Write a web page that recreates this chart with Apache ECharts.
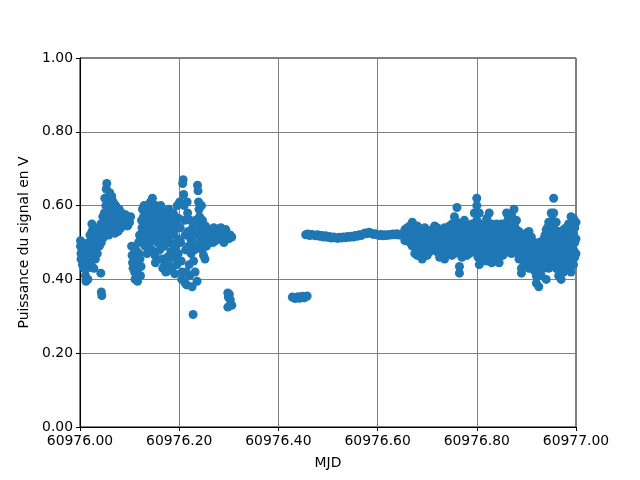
<!DOCTYPE html>
<html>
<head>
<meta charset="utf-8">
<script src="https://cdn.jsdelivr.net/npm/echarts@6/dist/echarts.min.js"></script>
<style>html,body{margin:0;padding:0;background:#fff}#c{width:640px;height:480px}</style>
</head>
<body>
<div id="c"></div>
<script>
// Each entry: [MJD, value1, value2, ...] (signal power in V)
const segStart = [
[60976.001,.505,.49],[60976.002,.47,.455],[60976.004,.50,.48],[60976.005,.46,.44],[60976.007,.495,.47],[60976.008,.45,.43],
[60976.010,.49,.465],[60976.011,.44,.41],[60976.012,.395],[60976.013,.48],[60976.014,.455],[60976.015,.43],[60976.016,.40],
[60976.017,.47],[60976.018,.50,.445],[60976.020,.52],[60976.021,.49,.465],[60976.022,.44],[60976.024,.55,.53],[60976.025,.51],
[60976.026,.485],[60976.027,.46],[60976.028,.43],[60976.029,.50],[60976.030,.475],[60976.031,.455],[60976.032,.52],[60976.033,.49],
[60976.034,.50],[60976.035,.47],[60976.036,.53],[60976.037,.51],[60976.038,.54],[60976.039,.49]
];
const segRise = [
[60976.042,.417],[60976.043,.366],[60976.044,.356],
[60976.041,.52],[60976.042,.55],[60976.043,.50],[60976.045,.53],[60976.046,.57],[60976.047,.54],[60976.048,.515],[60976.049,.58],
[60976.050,.555,.62],[60976.051,.53],[60976.052,.60],[60976.053,.645],[60976.054,.66],[60976.055,.575,.545],[60976.056,.615],
[60976.057,.59],[60976.058,.52],[60976.059,.56],[60976.060,.635],[60976.061,.60],[60976.062,.58],[60976.063,.55],[60976.064,.625],
[60976.065,.53],[60976.066,.57],[60976.067,.61],[60976.068,.59],[60976.069,.55],[60976.070,.525],[60976.071,.57],[60976.072,.60],
[60976.073,.555],[60976.074,.54],[60976.075,.58],[60976.076,.565],[60976.077,.53],[60976.078,.545],[60976.079,.59],[60976.080,.57],
[60976.082,.555],[60976.083,.54],[60976.084,.58],[60976.086,.56],[60976.087,.545],[60976.089,.57],[60976.090,.555],[60976.092,.575],
[60976.094,.56],[60976.096,.545],[60976.098,.565],[60976.100,.555],[60976.102,.57]
];
const segDip = [
[60976.104,.49],[60976.105,.465],[60976.106,.445],[60976.107,.43],[60976.108,.47],[60976.109,.455],[60976.110,.42],[60976.111,.40],
[60976.112,.44],[60976.113,.48],[60976.114,.46],[60976.116,.395],[60976.117,.43],[60976.118,.50],[60976.119,.47],[60976.120,.52],
[60976.121,.455],[60976.122,.41],[60976.123,.435]
];
const segMid = [
[60976.124,.56],[60976.125,.54],[60976.126,.59],[60976.127,.51],[60976.128,.57],[60976.129,.60],[60976.130,.53],[60976.131,.49],
[60976.132,.58],[60976.133,.55],[60976.134,.51],[60976.135,.47],[60976.136,.60],[60976.137,.57],[60976.138,.52],[60976.139,.545],
[60976.140,.585],[60976.141,.50],[60976.142,.61],[60976.143,.56],[60976.144,.53],[60976.145,.48],[60976.146,.62],[60976.147,.59],
[60976.148,.55],[60976.149,.51],[60976.150,.57],[60976.151,.465],[60976.152,.445],[60976.153,.60],[60976.154,.53],[60976.155,.58],
[60976.156,.50],[60976.157,.55],[60976.158,.59],[60976.159,.52],[60976.160,.57],[60976.161,.48],[60976.162,.54],[60976.163,.60],
[60976.164,.51],[60976.165,.455],[60976.166,.56],[60976.167,.43],[60976.168,.525],[60976.169,.58],[60976.170,.49],[60976.171,.44],
[60976.172,.55],[60976.173,.42],[60976.174,.505],[60976.175,.57],[60976.176,.46],[60976.177,.53],[60976.178,.445],[60976.179,.59],
[60976.180,.50],[60976.181,.425],[60976.182,.56],[60976.183,.475],[60976.184,.52],[60976.185,.43],[60976.186,.545],[60976.187,.495],
[60976.188,.58],[60976.189,.46],[60976.190,.53],[60976.191,.415],[60976.192,.57],[60976.193,.49],[60976.194,.55],[60976.195,.44],
[60976.196,.60],[60976.197,.51],[60976.198,.47],[60976.199,.565]
];
const segPeaks = [
[60976.201,.61],[60976.202,.54],[60976.203,.50],[60976.204,.45],[60976.205,.40],[60976.206,.42],[60976.207,.66],[60976.208,.67],
[60976.209,.63],[60976.210,.60],[60976.211,.56],[60976.212,.39,.52],[60976.213,.48],[60976.214,.42],[60976.215,.385],[60976.216,.61],
[60976.217,.58],[60976.218,.53],[60976.219,.49],[60976.220,.44],[60976.221,.41],[60976.222,.56],[60976.223,.51],[60976.224,.47],
[60976.226,.38],[60976.227,.54],[60976.228,.305,.50],[60976.229,.45],[60976.230,.52],[60976.231,.48],[60976.232,.42],[60976.233,.56],
[60976.234,.53],[60976.236,.395,.49],[60976.237,.655],[60976.238,.64],[60976.239,.61],[60976.240,.59],[60976.241,.57],[60976.242,.55]
];
const segTail = [
[60976.243,.53],[60976.244,.51],[60976.245,.60],[60976.246,.48],[60976.247,.56],[60976.248,.50],[60976.249,.465],[60976.250,.53],
[60976.251,.52],[60976.252,.455],[60976.253,.545],[60976.254,.51],[60976.255,.49],[60976.256,.53],[60976.258,.52],[60976.260,.505],
[60976.262,.535],[60976.264,.515],[60976.266,.53],[60976.268,.50],[60976.270,.54],[60976.272,.52],[60976.274,.505],[60976.276,.53],
[60976.278,.515],[60976.280,.525],[60976.282,.51],[60976.284,.54],[60976.286,.52],[60976.288,.53],[60976.290,.50],[60976.292,.525],
[60976.294,.535],[60976.296,.515],[60976.300,.51],[60976.303,.52],[60976.306,.515],
[60976.298,.363,.325],[60976.299,.352],[60976.301,.36],[60976.303,.345],[60976.306,.33]
];
const segLow = [
[60976.428,.352],[60976.431,.350],[60976.434,.348],[60976.437,.351],[60976.440,.353],[60976.443,.349],[60976.446,.352],
[60976.449,.354],[60976.452,.350],[60976.455,.353],[60976.458,.355]
];
const segFlat = [
[60976.455,.521],[60976.459,.523],[60976.463,.519],[60976.467,.522],[60976.471,.520],[60976.475,.518],[60976.479,.521],
[60976.483,.517],[60976.487,.519],[60976.491,.515],[60976.495,.518],[60976.499,.514],[60976.503,.516],[60976.507,.512],
[60976.511,.515],[60976.515,.513],[60976.519,.511],[60976.523,.514],[60976.527,.512],[60976.531,.515],[60976.535,.513],
[60976.539,.516],[60976.543,.514],[60976.547,.517],[60976.551,.515],[60976.555,.519],[60976.559,.517],[60976.563,.521],
[60976.567,.519],[60976.571,.523],[60976.575,.526],[60976.579,.524],[60976.583,.528],[60976.587,.525],[60976.591,.522],
[60976.595,.524],[60976.599,.521],[60976.603,.519],[60976.607,.522],[60976.611,.518],[60976.615,.521],[60976.619,.519],
[60976.623,.522],[60976.627,.520],[60976.631,.523],[60976.635,.521],[60976.639,.524],[60976.643,.520],[60976.647,.522],
[60976.651,.519]
];
const segNoisy = [
[60976.655,.52,.535,.505],[60976.660,.525,.54,.51],[60976.665,.53,.545,.50],[60976.670,.52,.555,.49],[60976.675,.535,.50,.47],
[60976.680,.545,.515,.48,.465],[60976.685,.53,.505,.47],[60976.690,.525,.49,.455],[60976.695,.54,.51,.48],[60976.700,.53,.50,.465],
[60976.705,.52,.495,.475],[60976.710,.535,.51,.48],[60976.715,.545,.52,.49],[60976.720,.54,.505,.475],[60976.725,.53,.50,.46],
[60976.730,.525,.495,.47],[60976.735,.54,.51,.455],[60976.740,.53,.50,.475],[60976.745,.545,.515,.48],[60976.750,.55,.52,.49,.465],
[60976.755,.57,.535,.50,.47],[60976.760,.595,.555,.51,.475],[60976.765,.545,.49,.435,.417],[60976.770,.53,.50,.46],
[60976.775,.56,.52,.48],[60976.780,.545,.51,.465],[60976.785,.53,.495,.47],[60976.790,.55,.515,.48],[60976.795,.58,.545,.50],
[60976.800,.62,.60,.56,.52,.47],[60976.805,.58,.53,.49,.44],[60976.810,.55,.51,.465,.45],[60976.815,.54,.50,.46],
[60976.820,.565,.525,.48,.45],[60976.825,.58,.54,.50,.46],[60976.830,.55,.515,.475,.445],[60976.835,.535,.50,.465],
[60976.840,.55,.52,.48,.45],[60976.845,.54,.505,.465,.445],[60976.850,.55,.52,.48],[60976.855,.545,.51,.47],
[60976.860,.58,.54,.50,.475],[60976.865,.57,.53,.49],[60976.870,.575,.535,.495,.47],[60976.875,.59,.55,.51],[60976.880,.56,.52,.48],
[60976.885,.53,.49,.455],[60976.890,.52,.47,.43,.417],[60976.895,.51,.475,.44],[60976.900,.525,.49,.455],[60976.905,.53,.50,.46,.43],
[60976.910,.515,.48,.44],[60976.915,.50,.465,.425],[60976.920,.495,.455,.41,.39],[60976.925,.50,.46,.42,.38],[60976.930,.49,.45,.41],
[60976.935,.51,.47,.43],[60976.940,.535,.50,.46,.40],[60976.945,.555,.52,.48,.43],[60976.950,.58,.55,.51,.46],
[60976.955,.62,.58,.54,.49,.44],[60976.960,.555,.51,.47,.43],[60976.965,.53,.49,.445,.41],[60976.970,.52,.48,.44,.40],
[60976.975,.535,.50,.46,.42],[60976.980,.54,.505,.47,.43],[60976.985,.55,.515,.48,.44],[60976.990,.57,.53,.49,.45,.42],
[60976.995,.565,.525,.48,.44],[60977.000,.555,.51,.47]
];
const segNoisyFill = [
[60976.6775,.52,.49],[60976.6825,.50,.53],[60976.6875,.515,.48],[60976.6925,.50,.47],[60976.6975,.525,.495],[60976.7025,.515,.48],
[60976.7075,.505,.53],[60976.7125,.50,.525],[60976.7175,.51,.535],[60976.7225,.52,.49],[60976.7275,.51,.48],[60976.7325,.52,.49],
[60976.7375,.525,.49],[60976.7425,.515,.49],[60976.7475,.53,.50],[60976.7525,.535,.505,.48],[60976.7575,.52,.49],[60976.7625,.53,.50],
[60976.7675,.51,.47],[60976.7725,.515,.485],[60976.7775,.535,.50],[60976.7825,.52,.49],[60976.7875,.51,.485],[60976.7925,.53,.50],
[60976.7975,.54,.51,.48],[60976.8025,.54,.50,.46],[60976.8075,.52,.48],[60976.8125,.525,.49,.46],[60976.8175,.52,.48],
[60976.8225,.545,.505,.47],[60976.8275,.525,.49],[60976.8325,.53,.495,.46],[60976.8375,.515,.48],[60976.8425,.53,.495,.46],
[60976.8475,.52,.485],[60976.8525,.535,.50,.465],[60976.8575,.525,.49],[60976.8625,.56,.52,.485],[60976.8675,.55,.51],
[60976.8725,.555,.515,.48],[60976.8775,.54,.50],[60976.8825,.505,.47],[60976.8875,.51,.47],[60976.8925,.495,.455],[60976.8975,.50,.46],
[60976.9025,.51,.475],[60976.9075,.50,.46],[60976.9125,.49,.455],[60976.9175,.475,.44],[60976.9225,.475,.43],[60976.9275,.47,.43],
[60976.9325,.49,.45],[60976.9375,.52,.48,.44],[60976.9425,.54,.50,.46],[60976.9475,.53,.49,.45],[60976.9525,.56,.52,.475],
[60976.9575,.53,.49,.45],[60976.9625,.51,.47,.43],[60976.9675,.50,.46,.425],[60976.9725,.51,.47,.43],[60976.9775,.52,.48,.44],
[60976.9825,.525,.49,.45],[60976.9875,.535,.50,.46],[60976.9925,.55,.51,.47],[60976.9975,.54,.50,.46]
];

const xTicks = ['60976.00','60976.20','60976.40','60976.60','60976.80','60977.00'];
const yTicks = ['0.00','0.20','0.40','0.60','0.80','1.00'];

const segments = [segStart, segRise, segDip, segMid, segPeaks, segTail, segLow, segFlat, segNoisy, segNoisyFill];
const points = [];
segments.forEach(seg => seg.forEach(col => {
  for (let i = 1; i < col.length; i++) points.push([col[0], col[i]]);
}));

const font = 'DejaVu Sans';
const chart = echarts.init(document.getElementById('c'), null, {renderer: 'canvas'});
chart.setOption({
  animation: false,
  backgroundColor: '#fff',
  grid: {left: 80, right: 64, top: 58, bottom: 53, show: true, borderColor: '#000', borderWidth: 1, backgroundColor: 'transparent'},
  xAxis: {
    type: 'value', min: 60976, max: 60977, interval: 0.2,
    name: 'MJD', nameLocation: 'middle', nameGap: 29,
    nameTextStyle: {fontFamily: font, fontSize: 13.9, color: '#000'},
    axisLine: {show: true, lineStyle: {color: '#000', width: 1}},
    axisTick: {show: true, length: 4, lineStyle: {color: '#000'}},
    axisLabel: {margin: 7, fontFamily: font, fontSize: 13.9, color: '#000',
      formatter: v => xTicks[Math.round((v - 60976) / 0.2)] || v.toFixed(2)},
    splitLine: {show: true, lineStyle: {color: '#808080', width: 1}}
  },
  yAxis: {
    type: 'value', min: 0, max: 1, interval: 0.2,
    name: 'Puissance du signal en V', nameLocation: 'middle', nameGap: 43,
    nameTextStyle: {fontFamily: font, fontSize: 13.9, color: '#000'},
    axisLine: {show: true, lineStyle: {color: '#000', width: 1}},
    axisTick: {show: true, length: 4, lineStyle: {color: '#000'}},
    axisLabel: {margin: 7, fontFamily: font, fontSize: 13.9, color: '#000',
      formatter: v => yTicks[Math.round(v / 0.2)] || v.toFixed(2)},
    splitLine: {show: true, lineStyle: {color: '#808080', width: 1}}
  },
  series: [{
    type: 'scatter', data: points, symbolSize: 9, clip: true,
    itemStyle: {color: '#1f77b4', opacity: 1}
  }]
});
</script>
</body>
</html>
